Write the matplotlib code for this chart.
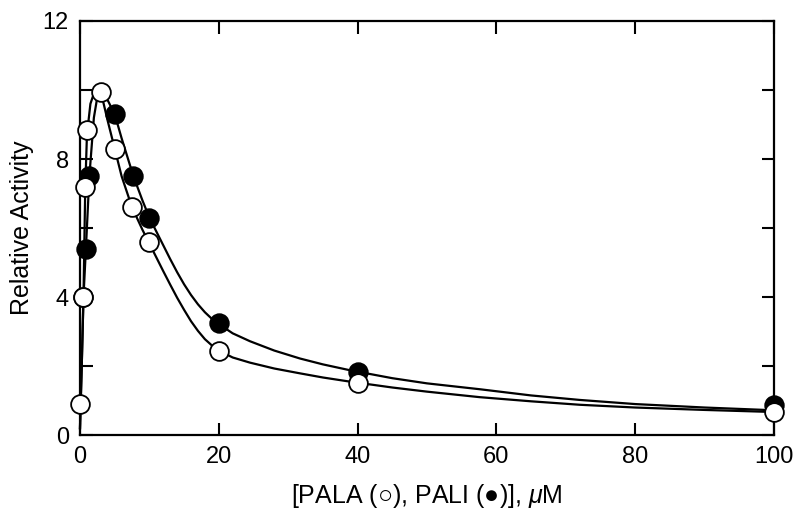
import matplotlib
matplotlib.use("Agg")
import matplotlib.pyplot as plt
from matplotlib.ticker import MultipleLocator

plt.rcParams['font.family'] = ['Liberation Sans', 'DejaVu Sans']
plt.rcParams['mathtext.fontset'] = 'custom'
plt.rcParams['mathtext.it'] = 'Liberation Sans:italic'
plt.rcParams['mathtext.rm'] = 'Liberation Sans'

# Measured points
pala_x = [0, 0.5, 0.75, 0.95, 3, 5, 7.5, 10, 20, 40, 100]
pala_y = [0.9, 4.0, 7.2, 8.85, 9.95, 8.3, 6.6, 5.6, 2.45, 1.5, 0.68]
pali_x = [0.5, 0.85, 1.35, 5, 7.7, 10, 20, 40, 100]
pali_y = [4.0, 5.4, 7.5, 9.3, 7.5, 6.3, 3.25, 1.82, 0.88]

# Fitted curves
fit_pala_x = [0, 0.25, 0.5, 0.75, 1, 1.5, 2, 2.5, 3, 4, 5, 6, 7.5, 9, 10,
              11, 12, 13, 14, 15, 16, 17, 18, 19, 20, 22, 24.5, 28, 31.7,
              35, 38.9, 45, 50, 57.6, 65, 72, 80, 90, 100]
fit_pala_y = [0.2, 2.0, 4.0, 7.1, 8.7, 9.6, 9.9, 10.0, 9.95, 9.1, 8.3, 7.5,
              6.6, 5.95, 5.55, 5.15, 4.75, 4.36, 3.98, 3.63, 3.3, 3.02, 2.78,
              2.6, 2.45, 2.25, 2.1, 1.93, 1.79, 1.67, 1.55, 1.38, 1.26, 1.1,
              0.98, 0.88, 0.8, 0.73, 0.67]
fit_pali_x = [0, 0.25, 0.5, 0.85, 1.35, 2, 2.5, 3, 4, 5, 6, 7.7, 9, 10,
              11, 12, 13, 14, 15, 16, 17, 18, 19, 20, 22, 24.5, 28, 31.7,
              35, 38.9, 45, 50, 57.6, 65, 72, 80, 90, 100]
fit_pali_y = [0.2, 2.0, 4.0, 5.4, 7.5, 9.2, 9.8, 9.95, 9.7, 9.3, 8.6, 7.5,
              6.8, 6.3, 5.9, 5.5, 5.1, 4.72, 4.37, 4.06, 3.79, 3.56, 3.37,
              3.22, 2.95, 2.72, 2.45, 2.22, 2.05, 1.88, 1.65, 1.5, 1.33,
              1.15, 1.02, 0.9, 0.8, 0.72]

x_ticks = [0, 20, 40, 60, 80, 100]
y_ticks = [0, 4, 8, 12]

fig = plt.figure(figsize=(8, 5.3), dpi=100)
ax = fig.add_axes([0.1, 0.179, 0.8675, 0.7814])

ax.plot(fit_pali_x, fit_pali_y, color='black', lw=1.6, zorder=2, clip_on=False)
ax.plot(fit_pala_x, fit_pala_y, color='black', lw=1.6, zorder=2, clip_on=False)
ax.plot(pali_x, pali_y, 'o', ms=13.5, mfc='black', mec='black', mew=1.2,
        zorder=3, clip_on=False)
ax.plot(pala_x, pala_y, 'o', ms=13.5, mfc='white', mec='black', mew=1.3,
        zorder=4, clip_on=False)

ax.set_xlim(0, 100)
ax.set_ylim(0, 12)
ax.set_xticks(x_ticks)
ax.set_yticks(y_ticks)
ax.yaxis.set_minor_locator(MultipleLocator(2))
ax.tick_params(which='both', direction='in', length=9, width=1.5,
               top=True, right=True, labelsize=17, pad=8)
for s in ax.spines.values():
    s.set_linewidth(1.6)

ax.set_ylabel('Relative Activity', fontsize=18, labelpad=6)
ax.set_xlabel('[PALA (\u25CB), PALI (\u25CF)], $\\mu$M', fontsize=18, labelpad=10)

fig.savefig('out.png', dpi=100)
